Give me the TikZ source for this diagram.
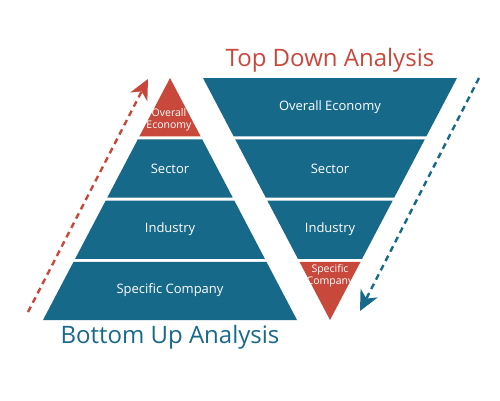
\documentclass[tikz,border=0pt]{standalone}
\usepackage{fontspec}
\setmainfont{Open Sans}
\usetikzlibrary{arrows.meta}
\definecolor{tealblue}{HTML}{17698A}
\definecolor{brick}{HTML}{C8483C}
\begin{document}
\begin{tikzpicture}[x=1pt,y=-1pt,
  band/.style={fill=tealblue,draw=none},
  redband/.style={fill=brick,draw=none},
  lbl/.style={text=white,font=\fontsize{13}{15}\selectfont,align=center,inner sep=0pt},
  slbl/.style={text=white,font=\fontsize{10.5}{12}\selectfont,align=center,inner sep=0pt},
  ttl/.style={font=\fontsize{24}{28}\selectfont,inner sep=0pt},
  dasharrow/.style={line width=2.4pt,dash pattern=on 6pt off 4.5pt,
    -{Stealth[length=20pt,width=19pt,inset=6pt]}}]
\useasboundingbox (0,0) rectangle (500,400);
% left pyramid
\fill[redband] (170,78) -- (200.57,136.25) -- (139.43,136.25) -- cycle;
\fill[band] (137.86,139.25) -- (202.14,139.25) -- (232.71,197.5) -- (107.29,197.5) -- cycle;
\fill[band] (105.71,200.5) -- (234.29,200.5) -- (264.86,258.75) -- (75.14,258.75) -- cycle;
\fill[band] (73.57,261.75) -- (266.43,261.75) -- (297,320) -- (43,320) -- cycle;
% right inverted pyramid
\fill[band] (203,78) -- (457,78) -- (426.43,136.25) -- (233.57,136.25) -- cycle;
\fill[band] (235.14,139.25) -- (424.86,139.25) -- (394.29,197.5) -- (265.71,197.5) -- cycle;
\fill[band] (267.29,200.5) -- (392.71,200.5) -- (362.14,258.75) -- (297.86,258.75) -- cycle;
\fill[redband] (299.43,261.75) -- (360.57,261.75) -- (330,320) -- cycle;
% left labels
\node[slbl] (lOE) at (169,120) {Overall\\Economy};
\node[lbl] (lS) at (170,169) {Sector};
\node[lbl] (lI) at (170,229) {Industry};
\node[lbl] (lSC) at (170,290) {Specific Company};
% right labels
\node[lbl] (rOE) at (330,107) {Overall Economy};
\node[lbl] (rS) at (330,169) {Sector};
\node[lbl] (rI) at (330,229) {Industry};
\node[slbl] (rSC) at (330,276) {Specific\\Company};
% titles
\node[ttl,text=brick] (td) at (330,60) {Top Down Analysis};
\node[ttl,text=tealblue] (bu) at (170,337) {Bottom Up Analysis};
% arrows
\coordinate (ra) at (28,312);
\coordinate (rb) at (148,79);
\coordinate (ba) at (479,78);
\coordinate (bb) at (360,311);
\draw[dasharrow,brick] (ra) -- (rb);
\draw[dasharrow,tealblue] (ba) -- (bb);
\end{tikzpicture}
\end{document}
